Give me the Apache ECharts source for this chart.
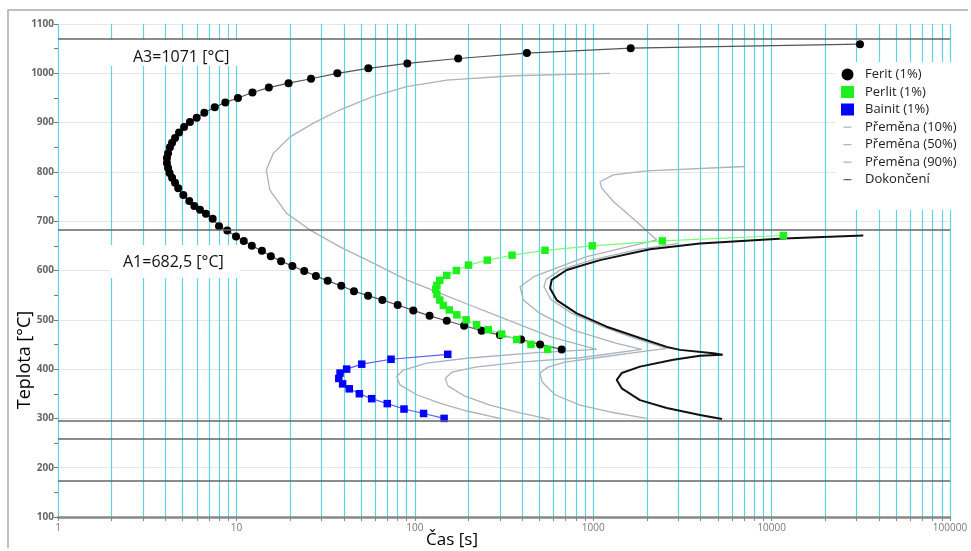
<!DOCTYPE html>
<html>
<head>
<meta charset="utf-8">
<script src="https://cdn.jsdelivr.net/npm/echarts@6/dist/echarts.min.js"></script>
<style>
  html, body { margin: 0; background: #fff; }
  #chart { width: 971px; height: 551px; }
</style>
</head>
<body>
<div id="chart"></div>
<script>
// [cas s, teplota °C]
const ferit = [
  [31300, 1059], [1622, 1051], [425, 1041], [175, 1030], [90.8, 1020], [54.9, 1010], [36.8, 1000],
  [26.2, 989], [19.6, 980], [15.2, 971], [12.3, 961], [10.2, 950], [8.67, 941], [7.56, 931],
  [6.61, 920], [5.99, 910], [5.49, 901], [5.09, 891], [4.77, 880], [4.53, 869], [4.36, 859],
  [4.24, 850], [4.14, 838], [4.08, 828], [4.08, 818], [4.14, 808], [4.22, 798], [4.36, 788],
  [4.53, 778], [4.72, 767], [5.04, 753], [5.44, 741], [5.81, 731], [6.25, 723], [6.75, 715],
  [7.36, 705], [7.99, 690], [8.89, 681], [9.95, 669], [11, 660], [12.2, 650], [13.9, 640],
  [15.6, 629], [17.8, 619], [20.6, 609], [24.0, 599], [27.9, 589], [32.5, 579], [38.7, 569],
  [45.6, 558], [54.7, 549], [65.8, 540], [80.2, 530], [98.1, 519], [121, 508], [151, 498],
  [189, 488], [237, 478], [300, 469], [394, 460], [504, 450], [666, 440]
];
const perlit = [
  [11640, 671], [2440, 660], [988, 650], [537, 641], [351, 631], [255, 621], [200, 611],
  [171, 600], [151, 590], [138, 580], [133, 570], [131, 562], [133, 552], [138, 540],
  [144.5, 529], [156, 520], [172, 510], [194, 500], [222, 490], [258, 480], [307, 471],
  [373, 460], [448, 450], [556, 440]
];
const bainit = [
  [153, 430], [73.6, 420], [50.4, 410], [41.5, 400], [38.1, 392], [37.5, 381], [39.4, 370],
  [42.9, 360], [48.9, 350], [57.3, 340], [70.1, 330], [87, 319], [112, 310], [146, 300]
];
const premena10 = [
  [1242, 1000], [357, 995], [151, 986], [90, 973], [58.5, 953], [38.1, 926], [27, 899],
  [20, 871], [16.1, 838], [14.7, 804], [15.4, 763], [19.1, 716], [25.9, 682], [38.1, 648],
  [58.5, 615], [90.1, 581], [138, 554], [213, 527], [300, 506], [573, 466], [1046, 440],
  [462, 433], [195.5, 422], [116.6, 412], [86.2, 398], [79.2, 385], [82.6, 368], [102.5, 348],
  [138, 331], [195.5, 315], [300, 300]
];
const premena50 = [
  [7100, 811], [1995, 802], [1297, 794], [1092, 780], [1116, 767], [1297, 740], [1753, 699],
  [2270, 662], [920, 628], [651, 608], [462, 587], [389, 567], [406, 540], [503, 513],
  [773, 479], [1355, 452], [1871, 440], [843, 423], [389, 414], [218, 404], [162, 394],
  [148, 381], [153.5, 366], [191, 345], [264, 327], [389, 311], [573, 298]
];
const premena90 = [
  [3000, 655], [1800, 643], [1000, 622], [660, 602], [545, 582], [530, 567], [580, 541],
  [760, 513], [1130, 486], [1700, 463], [2583, 442], [1829, 435], [1092, 424], [695, 414],
  [558, 404], [503, 392], [517, 374], [611, 348], [843, 327], [1242, 313], [1995, 300]
];
const dokonceni = [
  [32660, 671], [11640, 665], [3970, 655], [2080, 643], [1092, 621], [710, 601], [585, 581],
  [573, 564], [624, 540], [808, 513], [1191, 486], [1829, 463], [2583, 445], [3067, 439],
  [4710, 432], [5320, 429], [3970, 427], [2812, 419], [1829, 405], [1445, 392], [1355, 378],
  [1445, 361], [1829, 337], [2583, 321], [3970, 307], [5270, 299]
];
// A3, A1, Ms ...
const teploty = [1071, 682.5, 295, 259, 173];

const cyan = '#5ad6e2';
const seda = '#aab2be';
// short dash for the legend, the tiny corners keep the icon at 13x12
const carka = 'path://M2.5,5.4h8v1.4h-8z M0,0h0.01v0.01h-0.01z M13,12h0.01v0.01h-0.01z';

const chart = echarts.init(document.getElementById('chart'));
chart.setOption({
  animation: false,
  textStyle: { fontFamily: 'Open Sans' },
  grid: { left: 58, right: 21, top: 24, bottom: 34 },
  legend: {
    orient: 'vertical',
    left: 835,
    top: 62,
    backgroundColor: '#fff',
    padding: [6, 12, 24, 6],
    itemWidth: 13,
    itemHeight: 12,
    itemGap: 4.5,
    textStyle: { fontSize: 13, color: '#222', padding: [0, 0, 0, 6] },
    data: [
      { name: 'Ferit (1%)', icon: 'circle' },
      { name: 'Perlit (1%)', icon: 'rect' },
      { name: 'Bainit (1%)', icon: 'rect' },
      { name: 'Přeměna (10%)', icon: carka, itemStyle: { color: '#b4b4b4' } },
      { name: 'Přeměna (50%)', icon: carka, itemStyle: { color: '#b4b4b4' } },
      { name: 'Přeměna (90%)', icon: carka, itemStyle: { color: '#b4b4b4' } },
      { name: 'Dokončení', icon: carka, itemStyle: { color: '#666' } }
    ]
  },
  xAxis: {
    type: 'log',
    logBase: 10,
    min: 1,
    max: 100000,
    axisLine: { lineStyle: { color: '#888', width: 2.5 } },
    axisTick: { length: 4, lineStyle: { color: '#888' } },
    minorTick: { show: true, splitNumber: 9, length: 4, lineStyle: { color: '#888' } },
    axisLabel: { color: '#777', fontSize: 10, margin: 6, formatter: v => String(v) },
    splitLine: { lineStyle: { color: cyan, width: 1.2 } },
    minorSplitLine: { show: true, lineStyle: { color: cyan, width: 1.2 } }
  },
  yAxis: {
    type: 'value',
    min: 100,
    max: 1100,
    interval: 100,
    axisLine: { show: false },
    axisTick: { show: true, length: 4, lineStyle: { color: '#777' } },
    minorTick: { show: true, splitNumber: 2, length: 4, lineStyle: { color: '#777' } },
    axisLabel: { color: '#666', fontSize: 10, fontWeight: 'bold', margin: 4, formatter: v => String(v) },
    splitLine: { lineStyle: { color: '#e6e6e6' } }
  },
  graphic: [
    { type: 'polyline', shape: { points: [[8, 548], [8, 10], [968, 10]] }, style: { stroke: '#aaa', lineWidth: 1.5, fill: null }, z: 1 },
    { type: 'rect', shape: { x: 105, y: 40, width: 137, height: 26 }, style: { fill: '#fff' }, z: 1 },
    { type: 'text', x: 133, y: 57, style: { text: 'A3=1071 [°C]', font: '16px "Open Sans"', fill: '#111', verticalAlign: 'middle' }, z: 1 },
    { type: 'rect', shape: { x: 110, y: 245, width: 130, height: 33 }, style: { fill: '#fff' }, z: 1 },
    { type: 'text', x: 123, y: 262, style: { text: 'A1=682,5 [°C]', font: '16px "Open Sans"', fill: '#111', verticalAlign: 'middle' }, z: 1 },
    { type: 'text', x: 25, y: 360, rotation: Math.PI / 2, style: { text: 'Teplota [°C]', font: '18px "Open Sans"', fill: '#000', align: 'center', verticalAlign: 'middle' }, z: 1 },
    { type: 'text', x: 452, y: 540, style: { text: 'Čas [s]', font: '17px "Open Sans"', fill: '#000', align: 'center', verticalAlign: 'middle' }, z: 1 }
  ],
  series: [
    {
      name: 'teploty', type: 'line', data: [], silent: true,
      markLine: {
        silent: true, symbol: 'none', label: { show: false },
        lineStyle: { color: '#666', width: 1.5, type: 'solid' },
        data: teploty.map(v => ({ yAxis: v }))
      }
    },
    { name: 'Přeměna (10%)', type: 'line', data: premena10, symbol: 'none', lineStyle: { color: seda, width: 1.3 }, itemStyle: { color: seda } },
    { name: 'Přeměna (50%)', type: 'line', data: premena50, symbol: 'none', lineStyle: { color: seda, width: 1.3 }, itemStyle: { color: seda } },
    { name: 'Přeměna (90%)', type: 'line', data: premena90, symbol: 'none', lineStyle: { color: seda, width: 1.3 }, itemStyle: { color: seda } },
    { name: 'Dokončení', type: 'line', data: dokonceni, symbol: 'none', lineStyle: { color: '#111', width: 2 }, itemStyle: { color: '#555' } },
    { name: 'Ferit (1%)', type: 'line', data: ferit, symbol: 'circle', symbolSize: 8, itemStyle: { color: '#000' }, lineStyle: { color: '#555', width: 1.2 } },
    { name: 'Perlit (1%)', type: 'line', data: perlit, symbol: 'rect', symbolSize: 7.5, itemStyle: { color: '#1ef01e' }, lineStyle: { color: '#77ff77', width: 1.2 } },
    { name: 'Bainit (1%)', type: 'line', data: bainit, symbol: 'rect', symbolSize: 7.5, itemStyle: { color: '#0000ff' }, lineStyle: { color: '#5a5aff', width: 1.2 } }
  ]
});
</script>
</body>
</html>
